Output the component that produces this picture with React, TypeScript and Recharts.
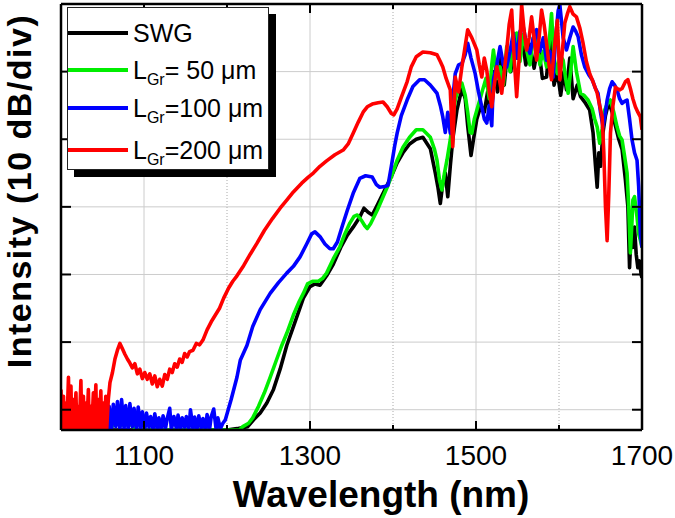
import { LineChart, Line, XAxis, YAxis, CartesianGrid, ReferenceLine } from "recharts"

type Pt = [number, number]

// wavelength (nm), intensity (dB, 10 dB per division)
const SWG: Pt[] = [
  [1060, -3], [1190, -3], [1200, -3], [1212, -2.8], [1225, -2.5], [1232, -1.5], [1240, -0.5], [1248, 1], [1256, 3],
  [1264, 6], [1272, 9.5], [1282, 13], [1292, 16.5], [1300, 18.2], [1306, 18.6], [1312, 18.4], [1320, 19.8],
  [1328, 21.5], [1337, 24], [1345, 25.8], [1352, 27], [1360, 28.5], [1365, 29.8], [1370, 29.2], [1375, 28.8],
  [1382, 30.5], [1390, 32.5], [1398, 34.5], [1405, 36.5], [1412, 38], [1420, 39.3], [1428, 40], [1436, 40.3],
  [1445, 38.6], [1451, 35], [1454, 33], [1457, 30.5], [1460, 33.5], [1463, 35], [1466, 31.5], [1469, 36],
  [1472, 40], [1477, 44.3], [1483, 47.5], [1487, 46], [1490, 42], [1494, 37.6], [1497, 40], [1501, 43],
  [1506, 45], [1510, 44], [1514, 47], [1518, 43], [1522, 50], [1526, 47], [1530, 52], [1534, 48], [1538, 53],
  [1542, 50], [1546, 55], [1550, 52], [1555, 55.5], [1560, 51], [1565, 54], [1570, 50.5], [1575, 54],
  [1580, 49], [1585, 49.2], [1590, 56], [1594, 48], [1598, 50], [1602, 46.5], [1606, 50], [1609, 47.3],
  [1613, 52], [1617, 46], [1622, 48], [1626, 46.3], [1631, 45.5], [1637, 44.3], [1641, 41], [1644, 36],
  [1646, 32.9], [1648, 38], [1650, 36], [1653, 41], [1656, 43.5], [1660, 45.5], [1664, 44], [1668, 42],
  [1672, 40], [1676, 38.5], [1680, 34], [1683, 30], [1685, 21], [1687, 27], [1689, 24], [1691, 27],
  [1693, 23], [1695, 21], [1697, 22], [1699, 20], [1700, 19.5],
]

const LGR50: Pt[] = [
  [1060, -3], [1063, -2], [1068, -1.8], [1073, -2.3], [1078, -1.7], [1083, -2.2], [1087, -2.4], [1090, -3],
  [1215, -3], [1219, -2.5], [1226, -2], [1231, -1.2], [1238, 0.5], [1245, 2.5], [1252, 4.8], [1260, 7.5],
  [1266, 9.5], [1272, 11.3], [1280, 14], [1287, 16], [1292, 17.2], [1297, 18.6], [1303, 19], [1310, 19],
  [1315, 19.4], [1320, 20.2], [1328, 22.3], [1336, 24.1], [1342, 26], [1348, 27.6], [1353, 28.6], [1357, 28.8],
  [1362, 28], [1366, 27.2], [1369, 26.8], [1373, 27.5], [1381, 29.5], [1387, 31.2], [1393, 32.9], [1399, 34.8],
  [1405, 36.9], [1412, 38.8], [1420, 40.3], [1428, 41.4], [1436, 41.4], [1445, 40.3], [1450, 38.5],
  [1453, 36.9], [1456, 34], [1459, 32.5], [1462, 35], [1465, 36.9], [1469, 39.9], [1472, 43], [1475, 45.8],
  [1479, 47.5], [1483, 48.3], [1487, 46.5], [1490, 44], [1493, 41], [1495, 40.9], [1498, 43], [1501, 44.3],
  [1505, 46], [1508, 47.3], [1512, 49], [1516, 46], [1519, 51], [1521, 53.2], [1525, 49], [1529, 50.7],
  [1533, 48], [1537, 53.7], [1541, 50], [1545, 55], [1549, 55.7], [1553, 51.5], [1557, 55.5], [1561, 53.2],
  [1565, 51], [1569, 55], [1573, 54.7], [1577, 51], [1581, 53], [1585, 50.7], [1588, 54], [1591, 58.6],
  [1594, 52], [1598, 49.7], [1601, 52.5], [1605, 51.7], [1608, 49], [1611, 46.8], [1614, 50], [1617, 53.7],
  [1621, 50], [1626, 46.8], [1630, 46.5], [1635, 45.8], [1640, 44.5], [1643, 43], [1646, 41.8], [1649, 39.4],
  [1652, 41.5], [1655, 44.3], [1658, 45.2], [1662, 45.8], [1666, 44], [1670, 41.8], [1673, 40.5], [1676, 39.9],
  [1679, 37.5], [1682, 35], [1684, 30], [1686, 23.2], [1688, 28], [1689, 31], [1691, 31.5], [1694, 28.5],
  [1696, 26], [1698, 25.1], [1700, 24],
]

const LGR100: Pt[] = [
  [1057, -3], [1058, 0.5], [1061, -3], [1063, 0.8], [1066, -2.5], [1068, 1.2], [1071, -3], [1073, 1.5],
  [1076, -2.8], [1078, 0.6], [1081, -3], [1083, 0.9], [1086, -2.5], [1088, 0.2], [1091, -3], [1093, 0.4],
  [1096, -2.8], [1098, -0.3], [1101, -3], [1103, -0.5], [1106, -2.6], [1108, -1], [1111, -3], [1113, -0.6],
  [1116, -2.8], [1118, -1.2], [1121, -3], [1123, -0.9], [1126, -2.7], [1128, -1.3], [1131, 0.2], [1133, -3],
  [1136, -1], [1139, -2.8], [1141, -0.8], [1144, -3], [1146, -1.2], [1149, -2.6], [1151, -1], [1154, -3],
  [1156, 0], [1159, -2.8], [1161, -1.1], [1164, -3], [1166, -0.9], [1169, -2.7], [1171, -1.3], [1174, -3],
  [1176, -0.7], [1179, -2.9], [1181, -1], [1184, 0.1], [1187, -3], [1189, -1.2], [1192, -2.8], [1195, -2],
  [1198, -1.5], [1205, 1.5], [1212, 4.8], [1216, 7.3], [1224, 9.5], [1231, 12.3], [1240, 14.8], [1252, 17.2],
  [1262, 18.8], [1272, 20.2], [1280, 21.2], [1288, 22.6], [1296, 24.5], [1302, 26], [1306, 26.3], [1312, 25.6],
  [1318, 24.5], [1324, 23.8], [1328, 23.8], [1333, 24.8], [1339, 27.2], [1345, 29.5], [1352, 32], [1360, 34.2],
  [1367, 34.6], [1375, 34.4], [1380, 33.3], [1384, 32.9], [1390, 33], [1394, 33.2], [1398, 36], [1402, 39],
  [1405, 40.9], [1410, 43.5], [1417, 45.8], [1424, 47.8], [1432, 48.8], [1438, 48.8], [1445, 48], [1453, 46.8],
  [1457, 45], [1460, 43.3], [1463, 41], [1466, 44], [1469, 40.9], [1472, 46], [1475, 49.7], [1479, 51],
  [1483, 51.2], [1487, 52.5], [1490, 54.2], [1494, 52], [1499, 49.7], [1503, 47], [1507, 44.8], [1510, 43],
  [1513, 42.4], [1516, 45], [1519, 42], [1521, 48.8], [1525, 51], [1529, 53.7], [1533, 51], [1537, 50.7],
  [1541, 53], [1545, 55.7], [1549, 52], [1553, 56], [1557, 56.6], [1561, 54], [1565, 52.7], [1569, 55],
  [1573, 56.2], [1577, 53], [1581, 55], [1585, 51.7], [1589, 53], [1593, 49.2], [1596, 55], [1599, 59],
  [1601, 59.9], [1605, 55], [1609, 53.2], [1613, 55], [1617, 56.6], [1620, 56], [1623, 55.2], [1627, 52.5],
  [1631, 50.7], [1636, 49.5], [1640, 48.8], [1644, 47.5], [1647, 46.8], [1650, 44], [1653, 41.8], [1656, 44],
  [1658, 45.8], [1661, 47.5], [1664, 48.5], [1667, 48], [1670, 47.3], [1673, 46], [1676, 45.3], [1679, 45.6],
  [1682, 45.8], [1685, 43], [1688, 39.9], [1691, 38], [1694, 36.9], [1696, 33], [1698, 26.1], [1700, 24],
]

const LGR200: Pt[] = [
  [1000, 3], [1001, -3], [1003, 2], [1004, -3], [1006, 1], [1007, -3], [1009, 4.8], [1010, -3], [1012, 3.5],
  [1013, -3], [1015, 1.5], [1016, -3], [1018, 2.5], [1019, -3], [1021, 0.5], [1022, -3], [1024, 4.3], [1025, -3],
  [1027, 2], [1028, -3], [1030, 1], [1031, -3], [1033, 3], [1034, -3], [1036, 0.5], [1037, -3], [1039, 2.5],
  [1040, -3], [1042, 3.7], [1043, -3], [1045, 1.5], [1046, -3], [1048, 2.8], [1049, -3], [1051, 1], [1052, -3],
  [1054, 2], [1055, -3], [1057, 1.5], [1059, 4], [1062, 5.5], [1065, 7.5], [1068, 8.8], [1071, 9.8], [1074, 9],
  [1077, 8.2], [1080, 7.5], [1083, 6.9], [1086, 6.2], [1089, 6.8], [1092, 5.3], [1095, 6], [1098, 4.6],
  [1101, 5.5], [1104, 4.5], [1107, 5.3], [1110, 3.8], [1113, 5], [1116, 3.4], [1119, 4.5], [1122, 3.5],
  [1125, 5.2], [1128, 4.5], [1131, 6], [1134, 5.5], [1137, 6.8], [1140, 6.3], [1143, 7.5], [1146, 7],
  [1149, 8.3], [1152, 7.8], [1155, 8.6], [1159, 8.8], [1163, 9.8], [1167, 9.6], [1171, 10.3], [1176, 11.8],
  [1181, 13], [1186, 14], [1191, 15], [1196, 16.5], [1202, 18], [1207, 19], [1212, 19.8], [1220, 21.3],
  [1228, 23], [1236, 24.6], [1245, 26.5], [1255, 28.3], [1264, 29.8], [1272, 31], [1280, 32.2], [1290, 33.5],
  [1298, 34.4], [1304, 35], [1312, 36], [1320, 36.8], [1330, 37.7], [1340, 38.4], [1346, 39.3], [1352, 40.9],
  [1358, 42.5], [1364, 44], [1369, 44.8], [1375, 45.2], [1382, 45.4], [1388, 45.5], [1393, 44.8], [1398, 43.8],
  [1401, 43.6], [1405, 44.5], [1410, 46.2], [1417, 48.5], [1422, 50.7], [1428, 52.2], [1436, 52.9], [1445, 52.8],
  [1453, 52.5], [1457, 51.5], [1460, 50.7], [1464, 49], [1469, 47.3], [1472, 38.9], [1475, 49.2], [1479, 47],
  [1483, 50.7], [1486, 53], [1490, 56.2], [1495, 55], [1501, 53.2], [1504, 51], [1507, 49.2], [1510, 52],
  [1513, 50.2], [1516, 47], [1519, 44.8], [1522, 48], [1525, 50.7], [1528, 49], [1531, 46.8], [1534, 50],
  [1537, 53.2], [1540, 57], [1543, 59.1], [1546, 52], [1549, 46.3], [1552, 52], [1555, 59.9], [1558, 56],
  [1561, 53.2], [1564, 55], [1567, 58.1], [1570, 55], [1573, 51.7], [1576, 55], [1579, 59.1], [1582, 57],
  [1585, 54.2], [1588, 51], [1591, 48.8], [1594, 53], [1598, 57.6], [1601, 48.8], [1604, 53], [1607, 57.2],
  [1610, 58.5], [1613, 59.6], [1617, 58.5], [1621, 58.1], [1625, 56.5], [1629, 54.2], [1633, 51.5],
  [1637, 49.7], [1641, 48.5], [1646, 46.8], [1649, 45], [1652, 43.3], [1654, 38], [1656, 30], [1658, 25],
  [1660, 32], [1662, 40.9], [1665, 45], [1668, 47.7], [1670, 47.5], [1673, 47.3], [1676, 47.5], [1680, 48.5],
  [1683, 48.8], [1686, 47.5], [1689, 46], [1692, 44.8], [1695, 44], [1698, 43.3], [1700, 41.4],
]

const X_MAJOR = [1100, 1300, 1500, 1700]
const X_MINOR = [1200, 1400, 1600]
const X_TICKS = [1100, 1200, 1300, 1400, 1500, 1600, 1700]
const Y_TICKS = [0, 10, 20, 30, 40, 50, 60]

const SERIES = [
  { name: "SWG", data: SWG, color: "#000000" },
  { name: "50", data: LGR50, color: "#00ee00" },
  { name: "100", data: LGR100, color: "#0000ff" },
  { name: "200", data: LGR200, color: "#ff0000" },
]

const FONT = "Arial, 'Liberation Sans', sans-serif"
const toPts = (arr: Pt[]) => arr.map(([x, y]) => ({ x, y }))

const isMajor = (v: number) => X_MAJOR.includes(v)

function BottomTick({ x, y, payload }: any) {
  const len = isMajor(payload.value) ? 9 : 5
  return (
    <g>
      <line x1={x} x2={x} y1={y} y2={y - len} stroke="#000" strokeWidth={2} />
      {isMajor(payload.value) && (
        <text x={x} y={y + 35} textAnchor="middle" fontSize={28} fontFamily={FONT} fill="#000">
          {payload.value}
        </text>
      )}
    </g>
  )
}

function TopTick({ x, y, payload }: any) {
  const len = isMajor(payload.value) ? 9 : 5
  return <line x1={x} x2={x} y1={y} y2={y + len} stroke="#000" strokeWidth={2} />
}

function LeftTick({ x, y }: any) {
  return <line x1={x} x2={x + 10} y1={y} y2={y} stroke="#000" strokeWidth={2} />
}

function RightTick({ x, y }: any) {
  return <line x1={x} x2={x - 10} y1={y} y2={y} stroke="#000" strokeWidth={2} />
}

function LegendBox() {
  const rows = [
    { color: "#000000", y: 25, base: 34, label: null as string | null },
    { color: "#00ee00", y: 62, base: 71, label: "= 50 μm" },
    { color: "#0000ff", y: 100, base: 109, label: "=100 μm" },
    { color: "#ff0000", y: 142, base: 151, label: "=200 μm" },
  ]
  return (
    <div
      style={{
        position: "absolute",
        left: 67,
        top: 7,
        width: 202,
        height: 163,
        boxSizing: "border-box",
        border: "1px solid #222",
        boxShadow: "7px 7px 0 #000",
        background: "#fff",
      }}
    >
      <svg width={200} height={161} style={{ display: "block" }}>
        {rows.map((r) => (
          <g key={r.color}>
            <line x1={0} x2={60} y1={r.y} y2={r.y} stroke={r.color} strokeWidth={4} />
            <text x={65} y={r.base} fontSize={25} fontFamily={FONT} fill="#000">
              {r.label === null ? (
                "SWG"
              ) : (
                <>
                  L
                  <tspan fontSize={16} dy={6}>Gr</tspan>
                  <tspan dy={-6}>{r.label}</tspan>
                </>
              )}
            </text>
          </g>
        ))}
      </svg>
    </div>
  )
}

export default function App() {
  return (
    <div
      style={{
        position: "absolute",
        left: 0,
        top: 0,
        width: 675,
        height: 518,
        overflow: "hidden",
        background: "#fff",
        fontFamily: FONT,
      }}
    >
      <LineChart width={675} height={518} margin={{ top: 3, right: 32, bottom: 87, left: 60 }}>
        <CartesianGrid vertical={false} stroke="#cccccc" strokeWidth={1} yAxisId="left" />
        {X_MAJOR.slice(0, 3).map((v) => (
          <ReferenceLine key={v} x={v} yAxisId="left" stroke="#cccccc" strokeWidth={1} />
        ))}
        {X_MINOR.map((v) => (
          <ReferenceLine key={v} x={v} yAxisId="left" stroke="#aaaaaa" strokeWidth={1} strokeDasharray="1 2" />
        ))}
        <XAxis
          dataKey="x"
          type="number"
          domain={[1000, 1700]}
          allowDataOverflow
          ticks={X_TICKS}
          height={1}
          tickSize={0}
          tickMargin={0}
          tickLine={false}
          tick={<BottomTick />}
          axisLine={{ stroke: "#000", strokeWidth: 2.5 }}
          interval={0}
        />
        <XAxis
          xAxisId="top"
          orientation="top"
          dataKey="x"
          type="number"
          domain={[1000, 1700]}
          allowDataOverflow
          ticks={X_TICKS}
          height={1}
          tickSize={0}
          tickMargin={0}
          tickLine={false}
          tick={<TopTick />}
          axisLine={{ stroke: "#000", strokeWidth: 2.5 }}
          interval={0}
        />
        <YAxis
          yAxisId="left"
          type="number"
          domain={[-3, 60]}
          allowDataOverflow
          ticks={Y_TICKS}
          width={1}
          tickSize={0}
          tickMargin={0}
          tickLine={false}
          tick={<LeftTick />}
          axisLine={{ stroke: "#000", strokeWidth: 2.5 }}
          interval={0}
        />
        <YAxis
          yAxisId="right"
          orientation="right"
          type="number"
          domain={[-3, 60]}
          allowDataOverflow
          ticks={Y_TICKS}
          width={1}
          tickSize={0}
          tickMargin={0}
          tickLine={false}
          tick={<RightTick />}
          axisLine={{ stroke: "#000", strokeWidth: 2.5 }}
          interval={0}
        />
        {SERIES.map((s) => (
          <Line
            key={s.name}
            yAxisId="left"
            data={toPts(s.data)}
            dataKey="y"
            type="linear"
            stroke={s.color}
            strokeWidth={3.6}
            strokeLinejoin="round"
            dot={false}
            isAnimationActive={false}
          />
        ))}
      </LineChart>
      <svg width={675} height={518} style={{ position: "absolute", left: 0, top: 0, pointerEvents: "none" }}>
        <text x={381} y={507} textAnchor="middle" fontSize={37} fontWeight="bold" fontFamily={FONT} fill="#000">
          Wavelength (nm)
        </text>
        <text
          x={31}
          y={191}
          textAnchor="middle"
          fontSize={34}
          fontWeight="bold"
          letterSpacing={1.5}
          fontFamily={FONT}
          fill="#000"
          transform="rotate(-90, 31, 191)"
        >
          Intensity (10 dB/div)
        </text>
      </svg>
      <LegendBox />
    </div>
  )
}
